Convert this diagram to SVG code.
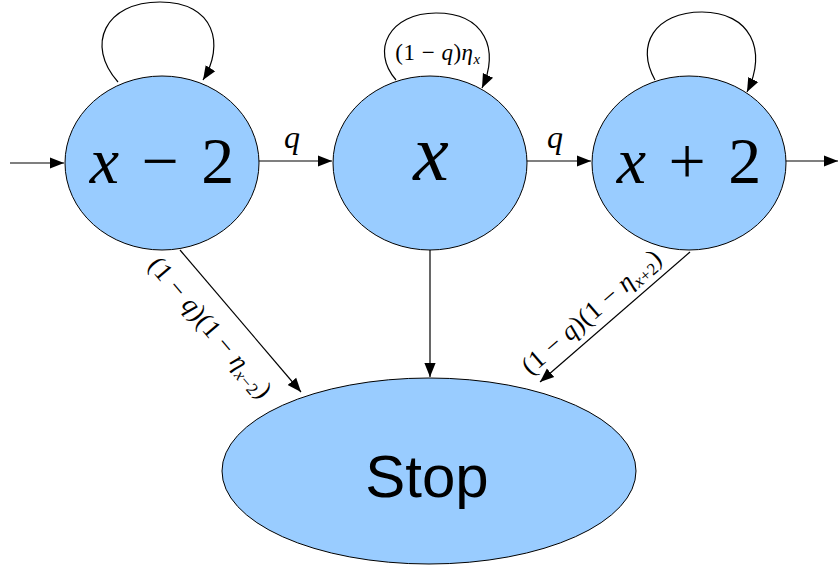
<svg xmlns="http://www.w3.org/2000/svg" width="838" height="571" viewBox="0 0 838 571">
<defs>
<style>
.node{fill:#99ccff;stroke:#000;stroke-width:1}
.edge{fill:none;stroke:#000;stroke-width:1.2}
.m{font-family:"Liberation Serif","DejaVu Serif",serif;font-style:italic;fill:#000}
.r{font-style:normal}
.s{font-family:"Liberation Sans",Arial,sans-serif;fill:#000}
</style>
<marker id="a" viewBox="0 0 10 10" refX="10" refY="5" markerWidth="14" markerHeight="14" markerUnits="userSpaceOnUse" orient="auto">
<path d="M0,1 L10,5 L0,9 z" fill="#000"/>
</marker>
</defs>
<g id="connectors">
<line class="edge" x1="10" y1="163" x2="64" y2="163" marker-end="url(#a)"/>
<line class="edge" x1="259" y1="161" x2="332" y2="161" marker-end="url(#a)"/>
<line class="edge" x1="527" y1="161" x2="591" y2="161" marker-end="url(#a)"/>
<line class="edge" x1="786" y1="161" x2="838" y2="161" marker-end="url(#a)"/>
<path class="edge" d="M118,82 C85,45 105,2 160,2 C215,2 225,45 203,80" marker-end="url(#a)"/>
<path class="edge" d="M396,80 C370,50 390,13 436,13 C485,13 500,50 482,88" marker-end="url(#a)"/>
<path class="edge" d="M655,80 C635,45 655,12 702,12 C750,12 768,50 747,92" marker-end="url(#a)"/>
<line class="edge" x1="430" y1="250" x2="430" y2="377" marker-end="url(#a)"/>
<line class="edge" x1="180" y1="250" x2="301" y2="392" marker-end="url(#a)"/>
<line class="edge" x1="690" y1="252" x2="540" y2="382" marker-end="url(#a)"/>
<text class="m" x="292" y="148" font-size="32" text-anchor="middle">q</text>
<text class="m" x="555" y="148" font-size="32" text-anchor="middle">q</text>
<text class="m" x="438" y="60" font-size="23" text-anchor="middle" letter-spacing="0.5"><tspan class="r">(1 − </tspan>q<tspan class="r">)</tspan>η<tspan font-size="15" dy="4">x</tspan></text>
<text class="m" font-size="26" text-anchor="middle" letter-spacing="0.5" transform="translate(204,333) rotate(49.8)"><tspan class="r">(1 − </tspan>q<tspan class="r">)(1 − </tspan>η<tspan font-size="17" dy="5">x<tspan class="r">−2</tspan></tspan><tspan class="r" dy="-5">)</tspan></text>
<text class="m" font-size="26" text-anchor="middle" letter-spacing="0.5" transform="translate(597,318) rotate(-40.9)"><tspan class="r">(1 − </tspan>q<tspan class="r">)(1 − </tspan>η<tspan font-size="17" dy="5">x<tspan class="r">+2</tspan></tspan><tspan class="r" dy="-5">)</tspan></text>
</g>
<g id="node-xm2">
<ellipse class="node" cx="162" cy="163" rx="97" ry="87"/>
<text class="m" x="162" y="183" font-size="66" text-anchor="middle" word-spacing="6">x<tspan class="r"> − 2</tspan></text>
</g>
<g id="node-x">
<ellipse class="node" cx="430" cy="163" rx="97" ry="87"/>
<text class="m" x="431" y="180" font-size="80" text-anchor="middle">x</text>
</g>
<g id="node-xp2">
<ellipse class="node" cx="689" cy="163" rx="97" ry="87"/>
<text class="m" x="689" y="183" font-size="66" text-anchor="middle" word-spacing="6">x<tspan class="r"> + 2</tspan></text>
</g>
<g id="node-stop">
<ellipse class="node" cx="429" cy="471" rx="207" ry="93"/>
<text class="s" x="427" y="497" font-size="60" text-anchor="middle">Stop</text>
</g>
</svg>
